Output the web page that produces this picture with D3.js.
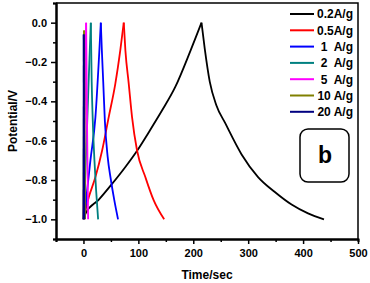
<!DOCTYPE html>
<html>
<head>
<meta charset="utf-8">
<script src="https://cdn.jsdelivr.net/npm/d3@7"></script>
<style>
  body { margin: 0; background: #fff; }
  text { font-family: "Liberation Sans", Arial, sans-serif; font-weight: bold; }
</style>
</head>
<body>
<svg id="chart"></svg>
<script>
// charge/discharge curves (time in s, potential in V)
const labels = ['0.2A/g', '0.5A/g', '1  A/g', '2  A/g', '5  A/g', '10 A/g', '20 A/g'];

const time_02 = [0, 4, 28, 52, 76, 98, 119, 143, 167, 195, 215, 221, 230, 242, 258, 288, 318, 348, 379, 409, 438];
const pot_02  = [-1.0, -0.97, -0.90, -0.82, -0.735, -0.65, -0.557, -0.447, -0.328, -0.142, 0.0, -0.135, -0.30, -0.42, -0.51, -0.67, -0.785, -0.86, -0.925, -0.97, -1.0];

const time_05 = [0, 3.7, 9.8, 21.8, 34, 46, 58, 67, 73.4, 76.4, 82.5, 88.5, 97.6, 112.7, 128, 147];
const pot_05  = [-1.0, -0.954, -0.887, -0.785, -0.65, -0.48, -0.311, -0.142, 0.0, -0.142, -0.311, -0.48, -0.65, -0.785, -0.904, -1.0];

const time_1 = [0, 2.5, 6.7, 12.7, 21.8, 29, 31.6, 33.5, 36, 39, 44, 50, 56, 63];
const pot_1  = [-1.0, -0.97, -0.853, -0.70, -0.48, -0.14, 0.0, -0.14, -0.3, -0.5, -0.68, -0.8, -0.9, -1.0];

const time_2 = [0, 3, 7.3, 11, 13.4, 15, 17, 20, 23, 26.7];
const pot_2  = [-1.0, -0.8, -0.47, -0.18, 0.0, -0.3, -0.5, -0.7, -0.85, -1.0];

const time_5 = [0, 4.9, 6.5, 8.5];
const pot_5  = [-1.0, 0.0, -0.5, -1.0];

const time_10 = [0, 1.2, 3];
const pot_10  = [-1.0, -0.04, -1.0];

const time_20 = [0, 0.5, 1.5];
const pot_20  = [-1.0, -0.06, -1.0];

const xMajor = [0, 100, 200, 300, 400, 500];
const xMinor = [-50, 50, 150, 250, 350, 450];
const yMajor = [-1.0, -0.8, -0.6, -0.4, -0.2, 0.0];
const yMinor = [-1.1, -0.9, -0.7, -0.5, -0.3, -0.1, 0.1];

const colors = ['#000000', '#ff0000', '#0000ff', '#008080', '#ff00ff', '#808000', '#000080'];

const series = [
  [time_02, pot_02], [time_05, pot_05], [time_1, pot_1], [time_2, pot_2],
  [time_5, pot_5], [time_10, pot_10], [time_20, pot_20]
].map((s, i) => {
  const pts = s[0].map((t, j) => ({ t: t, v: s[1][j] }));
  const peak = d3.maxIndex(pts, d => d.v);
  return { label: labels[i], color: colors[i], charge: pts.slice(0, peak + 1), discharge: pts.slice(peak) };
});

const width = 370, height = 283;
const margin = { top: 3, right: 12, bottom: 44, left: 56 };
const innerW = width - margin.left - margin.right;
const innerH = height - margin.top - margin.bottom;

const svg = d3.select('#chart').attr('width', width).attr('height', height);
const chart = svg.append('g').attr('transform', `translate(${margin.left},${margin.top})`);

const xScale = d3.scaleLinear().domain([-50, 500]).range([0, innerW]);
const yScale = d3.scaleLinear().domain([-1.1, 0.1]).range([innerH, 0]);

chart.append('clipPath').attr('id', 'clip')
  .append('rect').attr('width', innerW).attr('height', innerH);

// curves
const line = d3.line().x(d => xScale(d.t)).y(d => yScale(d.v)).curve(d3.curveMonotoneX);
const curves = chart.append('g').attr('clip-path', 'url(#clip)');
series.forEach(s => {
  [s.charge, s.discharge].forEach(part => {
    curves.append('path')
      .attr('d', line(part))
      .attr('fill', 'none')
      .attr('stroke', s.color)
      .attr('stroke-width', 1.8)
      .attr('stroke-linejoin', 'miter');
  });
});

// frame (top and right)
chart.append('path')
  .attr('d', `M0,0H${innerW}V${innerH}`)
  .attr('fill', 'none')
  .attr('stroke', '#000')
  .attr('stroke-width', 1.5);

// axes
const xAxisG = chart.append('g').attr('transform', `translate(0,${innerH})`);
xAxisG.call(d3.axisBottom(xScale).tickValues(xMinor).tickSize(3).tickFormat(''));
xAxisG.append('g').call(d3.axisBottom(xScale).tickValues(xMajor).tickSize(5).tickPadding(5).tickSizeOuter(0));

const yAxisG = chart.append('g');
yAxisG.call(d3.axisLeft(yScale).tickValues(yMinor).tickSize(3).tickFormat(''));
yAxisG.append('g').call(d3.axisLeft(yScale).tickValues(yMajor).tickSize(5).tickPadding(4)
  .tickSizeOuter(0).tickFormat(d3.format('.1f')));

chart.selectAll('.domain').attr('stroke-width', 2).attr('stroke', '#000');
chart.selectAll('.tick line').attr('stroke-width', 1.5).attr('stroke', '#000');
chart.selectAll('.tick text')
  .style('font-size', '11px')
  .style('font-weight', 'bold')
  .style('font-family', '"Liberation Sans", Arial, sans-serif')
  .attr('fill', '#000');

// axis titles
svg.append('text')
  .attr('x', margin.left + innerW / 2)
  .attr('y', 279)
  .attr('text-anchor', 'middle')
  .style('font-size', '12px')
  .text('Time/sec');

svg.append('text')
  .attr('transform', 'rotate(-90)')
  .attr('x', -(margin.top + innerH / 2))
  .attr('y', 17)
  .attr('text-anchor', 'middle')
  .style('font-size', '12px')
  .text('Potential/V');

// legend
const legend = svg.append('g');
series.forEach((s, i) => {
  const cy = 14 + i * 16.3;
  legend.append('line')
    .attr('x1', 290).attr('x2', 314)
    .attr('y1', cy).attr('y2', cy)
    .attr('stroke', s.color)
    .attr('stroke-width', 2);
  legend.append('text')
    .attr('x', 353)
    .attr('y', cy + 4.3)
    .attr('text-anchor', 'end')
    .style('font-size', '12px')
    .style('white-space', 'pre')
    .text(s.label);
});

// panel tag
svg.append('rect')
  .attr('x', 300).attr('y', 129)
  .attr('width', 49).attr('height', 53)
  .attr('rx', 8).attr('ry', 8)
  .attr('fill', 'none')
  .attr('stroke', '#000')
  .attr('stroke-width', 1.5);
svg.append('text')
  .attr('x', 325)
  .attr('y', 163)
  .attr('text-anchor', 'middle')
  .style('font-size', '23px')
  .text('b');
</script>
</body>
</html>
